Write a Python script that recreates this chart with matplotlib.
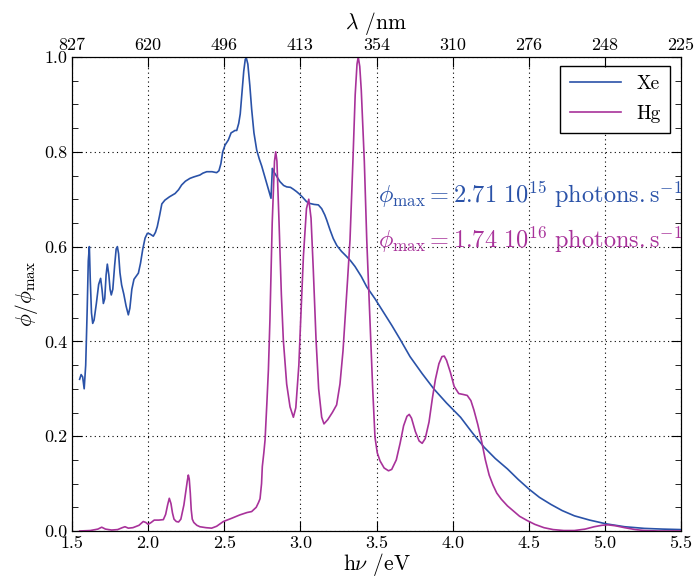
import matplotlib
matplotlib.use("Agg")
import matplotlib.pyplot as plt

plt.rcParams['font.family'] = 'serif'
plt.rcParams['font.serif'] = ['cmr10']
plt.rcParams['mathtext.fontset'] = 'cm'
plt.rcParams['axes.formatter.use_mathtext'] = True

# Xe spectrum (photon energy eV, normalised flux)
xe_E = [1.55, 1.56, 1.57, 1.58, 1.59, 1.60, 1.607, 1.614, 1.62, 1.628, 1.636, 1.645, 1.66,
        1.675, 1.688, 1.697, 1.706, 1.715, 1.724, 1.732, 1.742, 1.75, 1.758, 1.768, 1.78,
        1.79, 1.798, 1.806, 1.815, 1.826, 1.84, 1.855, 1.87, 1.88, 1.893, 1.907, 1.92,
        1.936, 1.95, 1.965, 1.98, 1.995, 2.01, 2.034, 2.048, 2.06, 2.075, 2.09, 2.11,
        2.14, 2.177, 2.20, 2.22, 2.245, 2.275, 2.30, 2.34, 2.36, 2.385, 2.42, 2.45,
        2.465, 2.478, 2.49, 2.505, 2.527, 2.545, 2.556, 2.57, 2.582, 2.595, 2.605, 2.615,
        2.628, 2.638, 2.645, 2.655, 2.668, 2.68, 2.695, 2.713, 2.73, 2.746, 2.762, 2.779,
        2.795, 2.807, 2.812, 2.816, 2.825, 2.845, 2.866, 2.89, 2.91, 2.935, 2.954, 2.975,
        2.993, 3.015, 3.04, 3.063, 3.09, 3.118, 3.14, 3.16, 3.173, 3.195, 3.216, 3.24,
        3.27, 3.304, 3.33, 3.359, 3.40, 3.436, 3.49, 3.545, 3.60, 3.654, 3.72, 3.80,
        3.876, 3.96, 4.052, 4.13, 4.206, 4.28, 4.36, 4.43, 4.503, 4.57, 4.646, 4.72,
        4.80, 4.90, 5.01, 5.13, 5.26, 5.38, 5.50]
xe_phi = [0.32, 0.33, 0.325, 0.30, 0.35, 0.47, 0.57, 0.60, 0.53, 0.46, 0.438, 0.445, 0.48,
          0.52, 0.533, 0.51, 0.48, 0.49, 0.54, 0.563, 0.54, 0.51, 0.498, 0.51, 0.56,
          0.595, 0.60, 0.585, 0.545, 0.519, 0.50, 0.475, 0.456, 0.47, 0.51, 0.531, 0.537,
          0.544, 0.565, 0.595, 0.618, 0.628, 0.627, 0.622, 0.63, 0.642, 0.665, 0.69, 0.698,
          0.705, 0.712, 0.72, 0.73, 0.738, 0.744, 0.747, 0.751, 0.755, 0.758, 0.758, 0.756,
          0.76, 0.775, 0.80, 0.814, 0.825, 0.84, 0.842, 0.845, 0.845, 0.86, 0.88, 0.92,
          0.97, 0.995, 0.998, 0.985, 0.94, 0.89, 0.84, 0.804, 0.785, 0.77, 0.752, 0.733,
          0.715, 0.702, 0.74, 0.765, 0.758, 0.748, 0.737, 0.729, 0.726, 0.725, 0.721, 0.716,
          0.711, 0.704, 0.695, 0.691, 0.689, 0.688, 0.68, 0.667, 0.656, 0.635, 0.617, 0.602,
          0.59, 0.579, 0.57, 0.558, 0.537, 0.515, 0.49, 0.462, 0.434, 0.405, 0.368, 0.332,
          0.300, 0.27, 0.240, 0.207, 0.177, 0.153, 0.131, 0.109, 0.088, 0.071, 0.056, 0.043,
          0.032, 0.023, 0.015, 0.009, 0.0055, 0.004, 0.003]

# Hg spectrum
hg_E = [1.55, 1.62, 1.67, 1.695, 1.72, 1.76, 1.80, 1.83, 1.848, 1.87, 1.90, 1.94, 1.968,
        1.985, 2.0, 2.02, 2.04, 2.07, 2.10, 2.115, 2.128, 2.139, 2.15, 2.16, 2.17, 2.185,
        2.20, 2.215, 2.235, 2.25, 2.257, 2.264, 2.27, 2.277, 2.283, 2.29, 2.30, 2.32,
        2.34, 2.38, 2.417, 2.45, 2.494, 2.55, 2.603, 2.65, 2.68, 2.71, 2.725, 2.735,
        2.745, 2.75, 2.76, 2.768, 2.78, 2.79, 2.80, 2.815, 2.83, 2.838, 2.846, 2.86,
        2.875, 2.888, 2.91, 2.932, 2.954, 2.97, 2.99, 3.002, 3.02, 3.04, 3.055, 3.07,
        3.085, 3.103, 3.12, 3.14, 3.155, 3.18, 3.21, 3.238, 3.26, 3.28, 3.293, 3.31,
        3.326, 3.345, 3.36, 3.372, 3.38, 3.39, 3.40, 3.42, 3.436, 3.45, 3.462, 3.475,
        3.49, 3.505, 3.523, 3.55, 3.579, 3.60, 3.63, 3.655, 3.678, 3.70, 3.715, 3.73,
        3.755, 3.78, 3.80, 3.82, 3.845, 3.867, 3.887, 3.91, 3.93, 3.945, 3.96, 3.985,
        4.01, 4.04, 4.07, 4.096, 4.12, 4.14, 4.165, 4.19, 4.215, 4.24, 4.265, 4.29,
        4.32, 4.36, 4.40, 4.44, 4.49, 4.54, 4.60, 4.66, 4.73, 4.80, 4.87, 4.93, 4.98,
        5.02, 5.07, 5.13, 5.20, 5.26, 5.35, 5.50]
hg_phi = [0.0, 0.001, 0.004, 0.008, 0.004, 0.002, 0.003, 0.007, 0.009, 0.006, 0.007, 0.012, 0.02,
          0.018, 0.014, 0.018, 0.023, 0.023, 0.024, 0.035, 0.055, 0.069, 0.058, 0.038, 0.025, 0.02,
          0.019, 0.025, 0.055, 0.09, 0.105, 0.118, 0.11, 0.08, 0.045, 0.025, 0.018, 0.012,
          0.009, 0.007, 0.006, 0.01, 0.02, 0.027, 0.034, 0.039, 0.041, 0.05, 0.06, 0.068,
          0.1, 0.136, 0.165, 0.192, 0.27, 0.34, 0.445, 0.65, 0.78, 0.80, 0.78, 0.65,
          0.50, 0.403, 0.31, 0.262, 0.24, 0.26, 0.35, 0.445, 0.58, 0.68, 0.70, 0.66,
          0.55, 0.403, 0.30, 0.24, 0.226, 0.235, 0.25, 0.266, 0.31, 0.38, 0.445, 0.53,
          0.614, 0.78, 0.92, 0.985, 1.0, 0.98, 0.93, 0.78, 0.614, 0.50, 0.403, 0.30,
          0.198, 0.165, 0.148, 0.133, 0.127, 0.130, 0.150, 0.185, 0.222, 0.242, 0.246, 0.238,
          0.21, 0.19, 0.185, 0.195, 0.23, 0.28, 0.32, 0.353, 0.368, 0.369, 0.36, 0.335,
          0.305, 0.29, 0.288, 0.286, 0.275, 0.255, 0.225, 0.19, 0.15, 0.118, 0.097, 0.08,
          0.067, 0.053, 0.042, 0.031, 0.022, 0.014, 0.007, 0.003, 0.001, 0.001, 0.004, 0.009, 0.012,
          0.013, 0.011, 0.007, 0.003, 0.001, 0.0, 0.0]

bottom_ticks = [1.5, 2.0, 2.5, 3.0, 3.5, 4.0, 4.5, 5.0, 5.5]
top_labels = ['827', '620', '496', '413', '354', '310', '276', '248', '225']
y_ticks = [0.0, 0.2, 0.4, 0.6, 0.8, 1.0]

xe_color = '#2a52a8'
hg_color = '#a8329a'

fig = plt.figure(figsize=(6.95, 5.8), dpi=100)
ax = fig.add_axes([72/695, 49/580, 609/695, 474/580])

ax.plot(xe_E, xe_phi, color=xe_color, lw=1.2, label='Xe')
ax.plot(hg_E, hg_phi, color=hg_color, lw=1.2, label='Hg')

ax.set_xlim(1.5, 5.5)
ax.set_ylim(0.0, 1.0)
ax.set_xticks(bottom_ticks)
ax.set_xticklabels([f'{t:.1f}' for t in bottom_ticks])
ax.set_yticks(y_ticks)
ax.set_yticklabels([f'{t:.1f}' for t in y_ticks])
ax.set_yticks([i * 0.05 for i in range(21)], minor=True)
ax.grid(True, which='major', color='black', linestyle=(0, (1, 3)), linewidth=0.8)
ax.tick_params(which='both', direction='in', top=False, right=True, labelsize=13)
ax.tick_params(which='major', length=7)
ax.tick_params(which='minor', length=4)
ax.set_xlabel(r'h$\nu$ /eV', fontsize=15.5, labelpad=0)
ax.set_ylabel(r'$\phi/\phi_{\max}$', fontsize=15.5, labelpad=3)

ax2 = ax.twiny()
ax2.set_xlim(ax.get_xlim())
ax2.set_xticks(bottom_ticks)
ax2.set_xticklabels(top_labels)
ax2.tick_params(direction='in', length=7, labelsize=13, pad=3)
ax2.set_xlabel(r'$\lambda$ /nm', fontsize=15.5, labelpad=6)

ax.text(3.51, 0.71, r'$\phi_{\max} = 2.71\ 10^{15}\ \mathrm{photons.s^{-1}}$',
        color=xe_color, fontsize=17.5, va='center', ha='left', clip_on=True)
ax.text(3.51, 0.614, r'$\phi_{\max} = 1.74\ 10^{16}\ \mathrm{photons.s^{-1}}$',
        color=hg_color, fontsize=17.5, va='center', ha='left', clip_on=True)

leg = ax.legend(loc='upper right', fontsize=14, fancybox=False, framealpha=1,
                edgecolor='black', handlelength=2.6, borderpad=0.5, labelspacing=0.6,
                borderaxespad=0, bbox_to_anchor=(0.982, 0.982))
leg.get_frame().set_linewidth(1.0)

fig.savefig('out.png', dpi=100)
